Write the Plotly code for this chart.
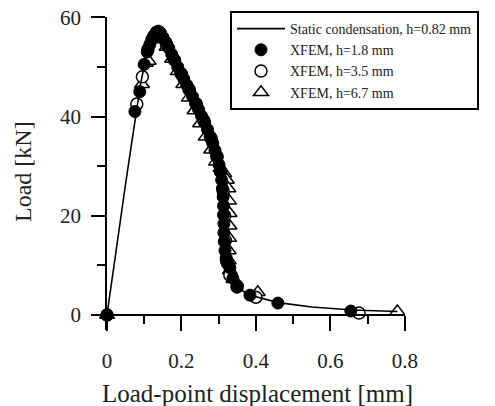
import plotly.graph_objects as go

# ---------------- data ----------------
static_d = [0, 0.05, 0.09, 0.105, 0.115, 0.125, 0.135, 0.145, 0.16, 0.18, 0.20, 0.22, 0.24,
            0.26, 0.28, 0.295, 0.305, 0.311, 0.314, 0.316, 0.318, 0.321, 0.327, 0.335, 0.348,
            0.38, 0.46, 0.55, 0.66, 0.78]
static_L = [0, 26.5, 46.5, 52.0, 54.8, 56.5, 57.2, 56.6, 54.6, 51.4, 48.2, 45.0, 41.8,
            38.5, 35.0, 32.0, 29.0, 25.5, 21.0, 16.5, 13.0, 10.8, 8.8, 7.2, 5.7,
            4.1, 2.5, 1.6, 1.0, 0.7]

xf18_d = [0, 0.075, 0.088, 0.100, 0.108, 0.115, 0.120, 0.126, 0.132, 0.138, 0.144, 0.150,
          0.158, 0.166, 0.174, 0.182, 0.190, 0.198, 0.206, 0.214, 0.222, 0.230, 0.238, 0.246,
          0.254, 0.262, 0.270, 0.277, 0.284, 0.290, 0.296, 0.301, 0.305, 0.308, 0.310, 0.312,
          0.313, 0.313, 0.314, 0.314, 0.315, 0.317, 0.320, 0.324, 0.330, 0.338, 0.349, 0.384,
          0.459, 0.655]
xf18_L = [0, 41.0, 45.0, 50.5, 53.0, 54.5, 55.5, 56.3, 57.0, 57.2, 56.8, 56.0,
          55.0, 53.8, 52.5, 51.3, 50.0, 48.8, 47.6, 46.4, 45.2, 44.0, 42.7, 41.4,
          40.1, 38.8, 37.4, 36.0, 34.6, 33.2, 31.8, 30.3, 28.8, 27.2, 25.5, 23.8,
          22.0, 20.2, 18.4, 16.6, 14.8, 13.0, 11.5, 10.3, 9.5, 7.4, 5.6, 4.0,
          2.4, 0.8]

xf35_d = [0, 0.080, 0.095, 0.110, 0.125, 0.140, 0.160, 0.180, 0.200, 0.220, 0.240, 0.260,
          0.280, 0.295, 0.305, 0.312, 0.316, 0.318, 0.321, 0.330, 0.350, 0.400, 0.677]
xf35_L = [0, 42.5, 48.0, 53.5, 56.0, 57.0, 54.5, 51.5, 48.5, 45.5, 42.5, 39.2,
          35.5, 32.0, 29.0, 25.0, 20.0, 15.0, 11.0, 8.0, 5.8, 3.6, 0.4]

xf67_d = [0, 0.094, 0.104, 0.112, 0.125, 0.140, 0.160, 0.175, 0.190, 0.205, 0.220, 0.235,
          0.250, 0.265, 0.280, 0.293, 0.305, 0.315, 0.322, 0.326, 0.328, 0.329, 0.329,
          0.328, 0.327, 0.327, 0.330, 0.340, 0.405, 0.780]
xf67_L = [0, 46.5, 50.8, 51.2, 55.5, 56.8, 54.0, 51.6, 49.1, 46.5, 43.8, 41.2,
          38.6, 35.9, 33.3, 30.9, 29.6, 28.5, 27.2, 25.5, 23.0, 20.5, 18.0,
          15.5, 13.0, 11.0, 9.0, 7.2, 4.6, 0.7]

x_ticks = [0, 0.2, 0.4, 0.6, 0.8]
y_ticks = [0, 20, 40, 60]
legend_names = ["Static condensation, h=0.82 mm", "XFEM, h=1.8 mm",
                "XFEM, h=3.5 mm", "XFEM, h=6.7 mm"]

# ---------------- figure ----------------
# The page's default 8 px body margin is removed by a post script, so the
# figure fills the window exactly.
W, H = 495, 406
FONT = "Liberation Serif, Times New Roman, serif"


def fx(px):
    return px / W


def fy(py):
    return 1 - py / H


fig = go.Figure()

fig.add_trace(go.Scatter(
    x=xf67_d, y=xf67_L, mode="markers", name=legend_names[3], legendrank=4,
    marker=dict(symbol="triangle-up", size=13, color="white",
                line=dict(color="black", width=1.5))))
fig.add_trace(go.Scatter(
    x=xf35_d, y=xf35_L, mode="markers", name=legend_names[2], legendrank=3,
    marker=dict(symbol="circle", size=12, color="white",
                line=dict(color="black", width=1.5))))
fig.add_trace(go.Scatter(
    x=xf18_d, y=xf18_L, mode="markers", name=legend_names[1], legendrank=2,
    marker=dict(symbol="circle", size=12, color="black",
                line=dict(color="black", width=1))))
fig.add_trace(go.Scatter(
    x=static_d, y=static_L, mode="lines", name=legend_names[0], legendrank=1,
    line=dict(color="black", width=1.6)))

axis_common = dict(
    showline=True, linecolor="black", linewidth=1.6,
    ticks="outside", tickcolor="black", tickwidth=1.6,
    showgrid=False, zeroline=False, anchor="free",
    ticklabeloverflow="allow",
    tickfont=dict(family=FONT, size=21, color="#222"),
)

fig.update_layout(
    width=W, height=H,
    margin=dict(l=0, r=0, t=0, b=0, autoexpand=False),
    paper_bgcolor="white", plot_bgcolor="white",
    showlegend=True,
    legend=dict(
        x=fx(230), y=fy(11), xanchor="left", yanchor="top",
        bordercolor="black", borderwidth=2, bgcolor="white",
        font=dict(family=FONT, size=14, color="#222"),
        itemwidth=48,
    ),
    xaxis=dict(
        **axis_common,
        domain=[fx(92), fx(405)],
        range=[-0.0403, 0.8005],
        position=fy(315),
        tickvals=x_ticks, ticktext=[str(v) for v in x_ticks],
        ticklen=15, ticklabelstandoff=12,
        minor=dict(ticks="outside", ticklen=8, tickwidth=1.6, tickcolor="black",
                   dtick=0.1, tick0=0),
    ),
    yaxis=dict(
        **axis_common,
        domain=[fy(330), fy(17)],
        range=[-3.02, 60.05],
        position=fx(106),
        tickvals=y_ticks, ticktext=[str(v) for v in y_ticks],
        ticklen=14, ticklabelstandoff=6,
        minor=dict(ticks="outside", ticklen=8, tickwidth=1.6, tickcolor="black",
                   dtick=10, tick0=0),
    ),
    annotations=[
        dict(text="Load-point displacement [mm]", xref="paper", yref="paper",
             x=fx(257), y=fy(393), xanchor="center", yanchor="middle",
             showarrow=False, font=dict(family=FONT, size=25, color="#222")),
        dict(text="Load [kN]", xref="paper", yref="paper",
             x=fx(23), y=fy(172), xanchor="center", yanchor="middle",
             textangle=-90, showarrow=False,
             font=dict(family=FONT, size=24, color="#222")),
    ],
)

fig.write_html("out.html",
               config={"displayModeBar": False},
               post_script="document.body.style.margin='0';"
                           "document.body.style.overflow='hidden';")
